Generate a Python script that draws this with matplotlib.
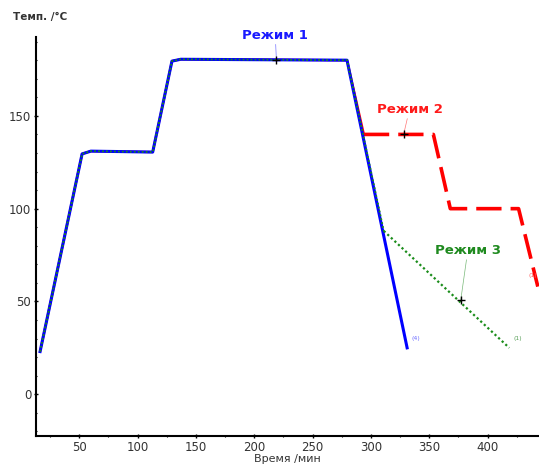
import matplotlib
matplotlib.use("Agg")
import matplotlib.pyplot as plt

# Режим 1: общий путь нагрева и охлаждение до конца
t1 = [16.5, 52.5, 60, 113, 129.5, 137, 279.5, 331]
T1 = [23, 129.5, 131, 130.5, 179.5, 180.5, 180, 25]

# Режим 2: выдержки при 140 и 100 °C
t2 = [294, 353.5, 368, 426.5, 443]
T2 = [140, 140, 100, 100, 58]

# Режим 3: медленное охлаждение
t3 = [311, 418.5]
T3 = [88, 25]

# подписи режимов: (текст, точка на кривой, позиция текста, цвет)
LABELS = [
    ("Режим 1", (219, 180), (218, 190), "#1a1aff"),
    ("Режим 2", (328, 140), (333, 150), "#ff1a1a"),
    ("Режим 3", (377, 51), (383, 74), "#1f8a1f"),
]
# мелкие номера на концах кривых: (текст, точка, сдвиг в pt, цвет)
ENDS = [("(4)", (331, 25), (3, 5), "#6f6fff"),
        ("(1)", (418.5, 25), (3, 5), "#5aa05a"),
        ("(1)", (443, 58), (-7, 6), "#ff6060")]

BLUE, RED, GREEN = "#0000ff", "#ff0000", "#1a8c1a"

fig = plt.figure(figsize=(5.39, 4.66), dpi=100)
ax = fig.add_axes([36 / 539, 30 / 466, 503 / 539, 399 / 466])

# общий участок: красный снизу, синий, зелёный пунктир поверх
ax.plot(t1[:7] + [294], T1[:7] + [140], color=RED, lw=1.6, zorder=1)
ax.plot(t2, T2, color=RED, lw=2.6, ls=(0, (7, 2.5)), zorder=1)
ax.plot(t1, T1, color=BLUE, lw=2.2, zorder=2)
ax.plot(t1[:7] + [311], T1[:7] + [88], color=GREEN, lw=1.3,
        ls=(0, (1, 1.2)), zorder=3)
ax.plot(t3, T3, color=GREEN, lw=1.6, ls=(0, (1, 1.2)), zorder=3)

for text, (x, y), (tx, ty), c in LABELS:
    ax.plot([x], [y], "+", color="black", ms=6, mew=1, zorder=5)
    ax.annotate(text, (x, y), xytext=(tx, ty), color=c, fontsize=9.5,
                fontweight="bold", ha="center", va="bottom",
                arrowprops=dict(arrowstyle="-", color=c, lw=0.5,
                                alpha=0.6, shrinkA=0, shrinkB=0))

for text, (x, y), off, c in ENDS:
    ax.annotate(text, (x, y), xytext=off, textcoords="offset points",
                color=c, fontsize=4.5, ha="left", va="bottom")

ax.set_xlim(13, 444)
ax.set_ylim(-22.5, 192.5)
ax.set_xticks([50, 100, 150, 200, 250, 300, 350, 400])
ax.set_xticks(range(25, 444, 25), minor=True)
ax.set_yticks([0, 50, 100, 150])
ax.set_yticks(range(-20, 192, 10), minor=True)

ax.spines[["top", "right"]].set_visible(False)
for side in ("left", "bottom"):
    ax.spines[side].set_linewidth(1.5)
ax.tick_params(which="major", length=3, width=1, labelsize=8.5, pad=2,
               direction="inout", labelcolor="#333333")
ax.tick_params(which="minor", length=2, width=0.8, direction="inout")

ax.set_xlabel("Время /мин", fontsize=8, labelpad=0, color="#333333")
fig.text(13 / 539, 1 - 17 / 466, "Темп. /°C", fontsize=7.5,
         fontweight="bold", color="#333333", va="center")

fig.savefig("out.png", dpi=100)
